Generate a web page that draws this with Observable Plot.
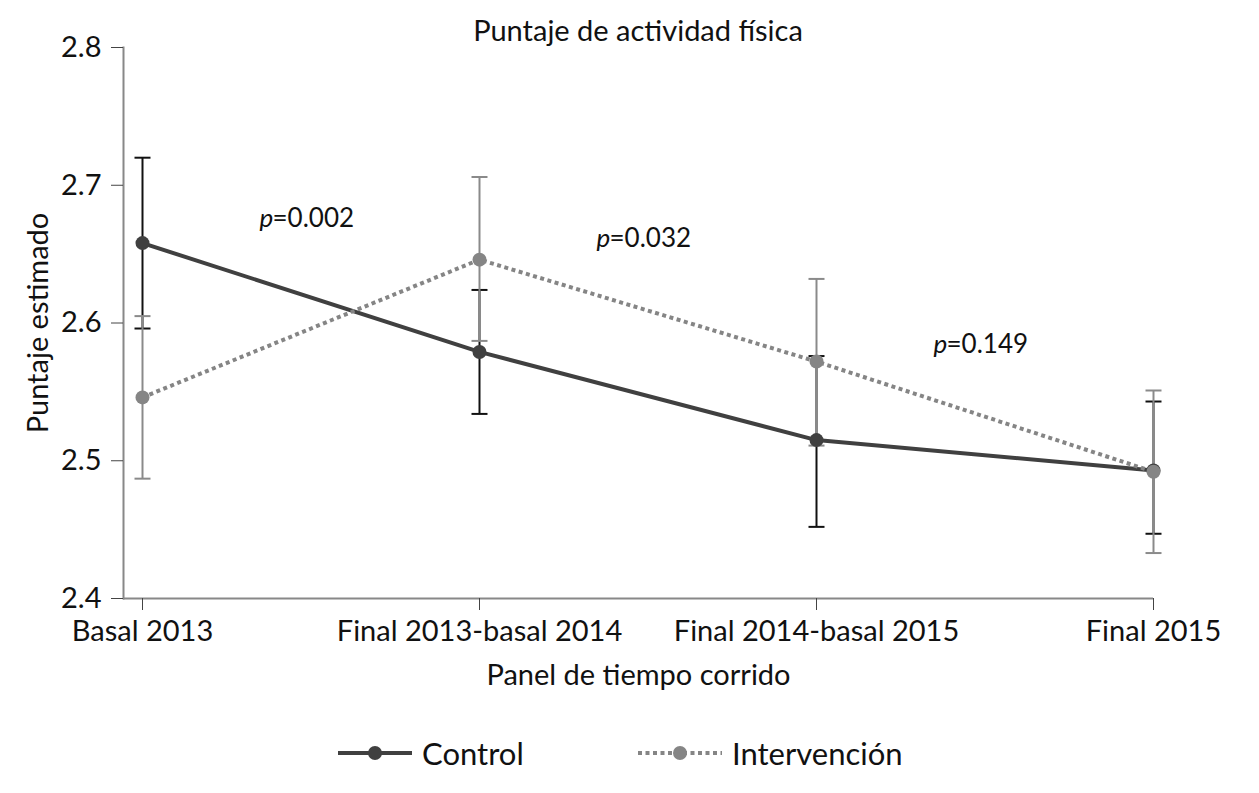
<!DOCTYPE html>
<html><head><meta charset="utf-8">
<script src="https://cdn.jsdelivr.net/npm/d3@7"></script>
<script src="https://cdn.jsdelivr.net/npm/@observablehq/plot@0.6"></script>
<style>
body{margin:0;background:#fff;font-family:Lato,"Open Sans",sans-serif;}
#wrap{position:relative;width:1259px;}
#title{position:absolute;top:12px;left:123px;width:1030px;text-align:center;font-size:29px;line-height:36px;color:#111;}
#legend{position:relative;height:88px;width:1259px;}
.item{position:absolute;top:30px;display:flex;align-items:center;font-size:31px;line-height:36px;color:#111;}
.item svg{margin-right:10px;}
</style></head><body>
<div id="wrap">
<div id="title">Puntaje de actividad física</div>
<div id="chart"></div>
<div id="legend"></div>
</div>
<script>
const categories = ["Basal 2013", "Final 2013-basal 2014", "Final 2014-basal 2015", "Final 2015"];
const groups = ["Control", "Intervención"];
const controlMean = [2.658, 2.579, 2.515, 2.493];
const controlLow  = [2.596, 2.534, 2.452, 2.447];
const controlHigh = [2.720, 2.624, 2.576, 2.543];
const intervMean  = [2.546, 2.646, 2.572, 2.492];
const intervLow   = [2.487, 2.587, 2.511, 2.433];
const intervHigh  = [2.605, 2.706, 2.632, 2.551];
const pValues = ["0.002", "0.032", "0.149"];
const pLevels = [2.676, 2.661, 2.584];
const yTicks = [2.4, 2.5, 2.6, 2.7, 2.8];

const control = categories.map((c, i) => ({cat: c, group: groups[0], mean: controlMean[i], low: controlLow[i], high: controlHigh[i]}));
const interv = categories.map((c, i) => ({cat: c, group: groups[1], mean: intervMean[i], low: intervLow[i], high: intervHigh[i]}));
const pData = pValues.map((p, i) => ({cat: categories[i], y: pLevels[i], label: "=" + p}));

const cDark = "#404040", cErr = "#111", iGray = "#858585", iErr = "#8a8a8a";
const fontFamily = "Lato, 'Open Sans', sans-serif";

// horizontal cap symbol for error bars
const cap = {draw(ctx) { ctx.moveTo(-8, 0); ctx.lineTo(8, 0); }};

const chart = Plot.plot({
  width: 1259,
  height: 705,
  marginTop: 47,
  marginLeft: 123,
  marginRight: 106,
  marginBottom: 107,
  style: {fontFamily, fontSize: "29px", color: "#111", background: "transparent"},
  x: {type: "point", domain: categories, padding: 0, range: [142, 1153]},
  y: {domain: [2.4, 2.8]},
  marks: [
    Plot.frame({anchor: "left", stroke: "#888", strokeWidth: 2}),
    Plot.ruleY([2.4], {stroke: "#888", strokeWidth: 2}),
    Plot.axisY({ticks: yTicks, tickFormat: d3.format(".1f"), tickSize: 12, tickPadding: 10, stroke: "#444",
      label: "Puntaje estimado", labelAnchor: "center", labelArrow: "none", labelOffset: 96}),
    Plot.axisX({tickSize: 12, tickPadding: 10, stroke: "#444",
      label: "Panel de tiempo corrido", labelAnchor: "center", labelArrow: "none", labelOffset: 86}),
    // error bars
    Plot.ruleX(control, {x: "cat", y1: "low", y2: "high", stroke: cErr, strokeWidth: 2}),
    Plot.dot(control, {x: "cat", y: "low", symbol: cap, stroke: cErr, strokeWidth: 2}),
    Plot.dot(control, {x: "cat", y: "high", symbol: cap, stroke: cErr, strokeWidth: 2}),
    Plot.ruleX(interv, {x: "cat", y1: "low", y2: "high", stroke: iErr, strokeWidth: 2}),
    Plot.dot(interv, {x: "cat", y: "low", symbol: cap, stroke: iErr, strokeWidth: 2}),
    Plot.dot(interv, {x: "cat", y: "high", symbol: cap, stroke: iErr, strokeWidth: 2}),
    // lines
    Plot.line(control, {x: "cat", y: "mean", stroke: cDark, strokeWidth: 4}),
    Plot.line(interv, {x: "cat", y: "mean", stroke: iGray, strokeWidth: 4, strokeDasharray: "4,3.5", strokeLinecap: "butt"}),
    Plot.dot(control, {x: "cat", y: "mean", r: 7, fill: cDark}),
    Plot.dot(interv, {x: "cat", y: "mean", r: 7, fill: iGray}),
    // p labels
    Plot.text(pData, {x: "cat", y: "y", text: () => "p", dx: 117, textAnchor: "start", fontStyle: "italic", fontSize: 26, fill: "#111"}),
    Plot.text(pData, {x: "cat", y: "y", text: "label", dx: 130, textAnchor: "start", fontSize: 26, fill: "#111"})
  ]
});
document.getElementById("chart").appendChild(chart);

// legend
const legend = document.getElementById("legend");
const items = [
  {label: groups[0], color: cDark, dash: null, left: 338},
  {label: groups[1], color: iGray, dash: "4,3.5", left: 638}
];
items.forEach(it => {
  const d = document.createElement("div");
  d.className = "item";
  d.style.left = it.left + "px";
  const w = it.dash ? 84 : 74;
  d.innerHTML = `<svg width="${w}" height="20"><line x1="0" x2="${w}" y1="10" y2="10" stroke="${it.color}" stroke-width="4" ${it.dash ? `stroke-dasharray="${it.dash}"` : ""}/><circle cx="${w/2}" cy="10" r="7" fill="${it.color}"/></svg><span>${it.label}</span>`;
  legend.appendChild(d);
});
</script>
</body></html>
